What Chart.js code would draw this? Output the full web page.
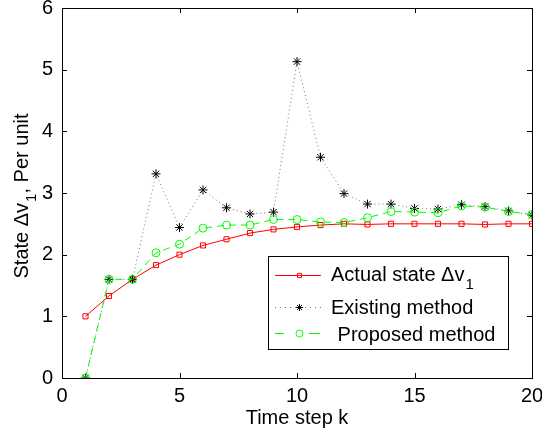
<!DOCTYPE html>
<html>
<head>
<meta charset="utf-8">
<script src="https://cdn.jsdelivr.net/npm/chart.js@4"></script>
<style>
  html, body { margin: 0; padding: 0; background: #fff; }
  #wrap { width: 542px; height: 432px; }
</style>
</head>
<body>
<div id="wrap"><canvas id="chart" width="542" height="432"></canvas></div>
<script>
var steps = [1, 2, 3, 4, 5, 6, 7, 8, 9, 10, 11, 12, 13, 14, 15, 16, 17, 18, 19, 20];
var actualState = [1.0, 1.33, 1.6, 1.83, 2.0, 2.15, 2.25, 2.35, 2.41, 2.45, 2.48, 2.5, 2.49, 2.5, 2.5, 2.5, 2.5, 2.49, 2.5, 2.5];
var existingMethod = [0, 1.6, 1.6, 3.31, 2.44, 3.05, 2.76, 2.66, 2.69, 5.13, 3.58, 2.99, 2.82, 2.82, 2.75, 2.74, 2.81, 2.78, 2.71, 2.64];
var proposedMethod = [0, 1.6, 1.6, 2.03, 2.17, 2.43, 2.48, 2.48, 2.57, 2.57, 2.53, 2.52, 2.6, 2.7, 2.69, 2.68, 2.79, 2.77, 2.7, 2.65];
var xTicks = [0, 5, 10, 15, 20];
var yTicks = [0, 1, 2, 3, 4, 5, 6];

var FONT = '"Liberation Sans", Arial, Helvetica, sans-serif';

function toPoints(values) {
  return steps.map(function (k, i) { return { x: k, y: values[i] }; });
}

// text followed by a lowered subscript, left aligned at baseline y
function drawSub(ctx, text, sub, x, y, size) {
  ctx.font = size + 'px ' + FONT;
  ctx.fillText(text, x, y);
  var w = ctx.measureText(text).width;
  ctx.font = Math.round(size * 0.75) + 'px ' + FONT;
  ctx.fillText(sub, x + w + 1, y + size * 0.4);
  return w + 1 + ctx.measureText(sub).width;
}

var framePlugin = {
  id: 'frame',
  afterDatasetsDraw: function (chart) {
    var ctx = chart.ctx;
    var a = chart.chartArea;
    var xs = chart.scales.x, ys = chart.scales.y;
    ctx.save();
    ctx.strokeStyle = '#000';
    ctx.lineWidth = 1;
    ctx.strokeRect(Math.round(a.left) + 0.5, Math.round(a.top) + 0.5,
      Math.round(a.right - a.left), Math.round(a.bottom - a.top));
    ctx.beginPath();
    xTicks.forEach(function (t) {
      var px = Math.round(xs.getPixelForValue(t)) + 0.5;
      ctx.moveTo(px, a.bottom); ctx.lineTo(px, a.bottom - 5);
      ctx.moveTo(px, a.top); ctx.lineTo(px, a.top + 5);
    });
    yTicks.forEach(function (t) {
      var py = Math.round(ys.getPixelForValue(t)) + 0.5;
      ctx.moveTo(a.left, py); ctx.lineTo(a.left + 5, py);
      ctx.moveTo(a.right, py); ctx.lineTo(a.right - 5, py);
    });
    ctx.stroke();

    // y axis title
    ctx.fillStyle = '#000';
    ctx.textBaseline = 'alphabetic';
    ctx.translate(28, 196);
    ctx.rotate(-Math.PI / 2);
    ctx.font = '20px ' + FONT;
    var w1 = ctx.measureText('State \u0394v').width;
    ctx.font = '15px ' + FONT;
    var ws = ctx.measureText('1').width;
    ctx.font = '20px ' + FONT;
    var w2 = ctx.measureText(', Per unit').width;
    var x0 = -(w1 + ws + 1 + w2) / 2;
    drawSub(ctx, 'State \u0394v', '1', x0, 0, 20);
    ctx.font = '20px ' + FONT;
    ctx.fillText(', Per unit', x0 + w1 + ws + 1, 0);
    ctx.restore();

    // legend box
    var lx = 268, ly = 256, lw = 240, lh = 93;
    ctx.save();
    ctx.fillStyle = '#fff';
    ctx.fillRect(lx, ly, lw, lh);
    ctx.strokeStyle = '#000';
    ctx.lineWidth = 1;
    ctx.strokeRect(lx + 0.5, ly + 0.5, lw, lh);
    var rows = [275, 307, 333];
    var ds = chart.data.datasets;
    rows.forEach(function (ry, i) {
      var d = ds[i];
      ctx.save();
      ctx.strokeStyle = d.borderColor;
      ctx.lineWidth = d.borderWidth;
      ctx.setLineDash(d.legendDash);
      ctx.beginPath();
      if (d.legendDash.length > 1 && d.legendDash[0] > 2) {
        // dashed sample: one dash each side of the marker
        ctx.setLineDash([]);
        ctx.moveTo(275, ry + 0.5); ctx.lineTo(284, ry + 0.5);
        ctx.moveTo(309, ry + 0.5); ctx.lineTo(320, ry + 0.5);
      } else {
        ctx.moveTo(275, ry + 0.5); ctx.lineTo(321, ry + 0.5);
      }
      ctx.stroke();
      ctx.setLineDash([]);
      ctx.strokeStyle = d.pointBorderColor;
      ctx.fillStyle = 'rgba(0,0,0,0)';
      Chart.helpers.drawPoint(ctx, {
        pointStyle: d.pointStyle, radius: d.legendRadius, borderWidth: 1, rotation: 0
      }, 299.5, ry + 0.5);
      ctx.restore();
    });
    ctx.fillStyle = '#000';
    ctx.textBaseline = 'alphabetic';
    drawSub(ctx, 'Actual state \u0394v', '1', 331, 281, 20);
    ctx.font = '20px ' + FONT;
    ctx.fillText('Existing method', 331, 314);
    ctx.fillText(' Proposed method', 332, 341);
    ctx.restore();
  }
};

new Chart(document.getElementById('chart'), {
  type: 'line',
  data: {
    datasets: [{
      label: 'Actual state',
      data: toPoints(actualState),
      borderColor: '#ff0000',
      borderWidth: 1,
      pointStyle: 'rect',
      pointRadius: 3.6,
      pointBorderColor: '#ff0000',
      pointBackgroundColor: 'rgba(0,0,0,0)',
      pointBorderWidth: 1,
      legendDash: [],
      legendRadius: 3,
      order: 3
    }, {
      label: 'Existing method',
      data: toPoints(existingMethod),
      borderColor: '#777777',
      borderWidth: 1,
      borderDash: [1, 3],
      pointStyle: 'star',
      pointRadius: 4.5,
      pointBorderColor: '#000000',
      pointBackgroundColor: 'rgba(0,0,0,0)',
      pointBorderWidth: 1,
      legendDash: [1, 4],
      legendRadius: 3.5,
      order: 2
    }, {
      label: 'Proposed method',
      data: toPoints(proposedMethod),
      borderColor: '#00ff00',
      borderWidth: 1,
      borderDash: [7, 5],
      pointStyle: 'circle',
      pointRadius: 4,
      pointBorderColor: '#00ff00',
      pointBackgroundColor: 'rgba(0,0,0,0)',
      pointBorderWidth: 1,
      legendDash: [8, 14],
      legendRadius: 3.5,
      order: 1
    }]
  },
  options: {
    responsive: false,
    animation: false,
    layout: { padding: { top: 8, right: 10, left: 0, bottom: 0 } },
    plugins: {
      legend: { display: false },
      tooltip: { enabled: false }
    },
    elements: { line: { tension: 0 } },
    scales: {
      x: {
        type: 'linear',
        min: 0,
        max: 20,
        grid: { display: false, drawTicks: false },
        border: { display: false },
        afterBuildTicks: function (axis) {
          axis.ticks = xTicks.map(function (v) { return { value: v }; });
        },
        ticks: { color: '#000', font: { family: FONT, size: 20 }, padding: 6, maxRotation: 0 },
        title: { display: true, text: 'Time step k', color: '#000', font: { family: FONT, size: 20 }, padding: { top: 0, bottom: 2 } },
        afterFit: function (axis) {
          axis.height = 54;
          axis.paddingLeft = 0;
          axis.paddingRight = 0;
        }
      },
      y: {
        min: 0,
        max: 6,
        grid: { display: false, drawTicks: false },
        border: { display: false },
        afterBuildTicks: function (axis) {
          axis.ticks = yTicks.map(function (v) { return { value: v }; });
        },
        ticks: { color: '#000', font: { family: FONT, size: 20 }, padding: 9 },
        afterFit: function (axis) {
          axis.width = 62;
          axis.paddingTop = 0;
          axis.paddingBottom = 0;
        }
      }
    }
  },
  plugins: [framePlugin]
});
</script>
</body>
</html>
